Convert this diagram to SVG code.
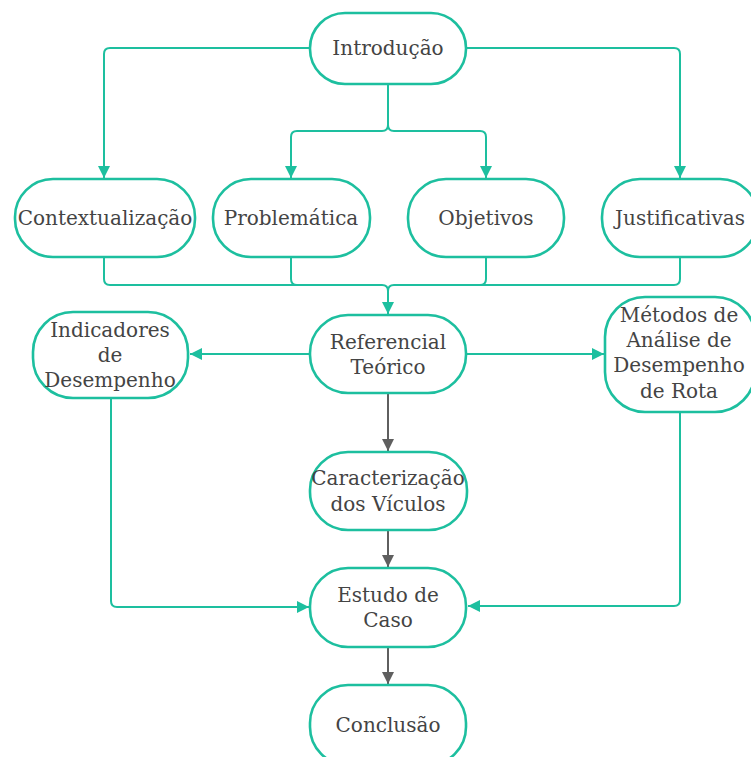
<svg xmlns="http://www.w3.org/2000/svg" width="751" height="757" viewBox="0 0 751 757">
<style>
.node rect{fill:#fff;stroke:#1dbf9f;stroke-width:2.6}
.node text{font-family:"DejaVu Serif","Liberation Serif",serif;font-size:20px;fill:#444;text-anchor:middle;dominant-baseline:central}
.c{fill:none;stroke:#1dbf9f;stroke-width:2}
.g{fill:none;stroke:#5f5f5f;stroke-width:2}
</style>
<defs>
<marker id="at" viewBox="0 0 12 12" refX="12" refY="6" markerWidth="12" markerHeight="12" markerUnits="userSpaceOnUse" orient="auto"><path d="M0,0 L12,6 L0,12 Z" fill="#1dbf9f"/></marker>
<marker id="ag" viewBox="0 0 12 12" refX="12" refY="6" markerWidth="12" markerHeight="12" markerUnits="userSpaceOnUse" orient="auto"><path d="M0,0 L12,6 L0,12 Z" fill="#5f5f5f"/></marker>
</defs>
<rect width="751" height="757" fill="#fff"/>
<g id="connectors">
<path class="c" d="M310,48 H110 Q104,48 104,54 V178" marker-end="url(#at)"/>
<path class="c" d="M466,48 H674 Q680,48 680,54 V178" marker-end="url(#at)"/>
<path class="c" d="M388,84 V125 Q388,131 382,131 H297 Q291,131 291,137 V178" marker-end="url(#at)"/>
<path class="c" d="M388,125 Q388,131 394,131 H480 Q486,131 486,137 V178" marker-end="url(#at)"/>
<path class="c" d="M104,257 V279 Q104,285 110,285 H382 Q388,285 388,291 V314" marker-end="url(#at)"/>
<path class="c" d="M291,257 V279 Q291,285 297,285"/>
<path class="c" d="M486,257 V279 Q486,285 480,285 H394 Q388,285 388,291"/>
<path class="c" d="M680,257 V279 Q680,285 674,285 H480"/>
<path class="c" d="M310,354 H190" marker-end="url(#at)"/>
<path class="c" d="M466,354 H604" marker-end="url(#at)"/>
<path class="g" d="M388,393 V451" marker-end="url(#ag)"/>
<path class="g" d="M388,530 V567" marker-end="url(#ag)"/>
<path class="g" d="M388,647 V684" marker-end="url(#ag)"/>
<path class="c" d="M111,398 V601 Q111,607 117,607 H309" marker-end="url(#at)"/>
<path class="c" d="M680,412 V600 Q680,606 674,606 H468" marker-end="url(#at)"/>
</g>
<g id="n-introducao" class="node"><rect x="310" y="13" width="156" height="71" rx="35"/><text x="388" y="48">Introdução</text></g>
<g id="n-contextualizacao" class="node"><rect x="15" y="179" width="180" height="78" rx="38"/><text x="105" y="218">Contextualização</text></g>
<g id="n-problematica" class="node"><rect x="213" y="179" width="157" height="78" rx="38"/><text x="291" y="218">Problemática</text></g>
<g id="n-objetivos" class="node"><rect x="408" y="179" width="156" height="78" rx="38"/><text x="486" y="218">Objetivos</text></g>
<g id="n-justificativas" class="node"><rect x="602" y="179" width="156" height="78" rx="38"/><text x="680" y="218">Justificativas</text></g>
<g id="n-referencial" class="node"><rect x="310" y="315" width="156" height="78" rx="38"/><text x="388" y="342">Referencial</text><text x="388" y="367">Teórico</text></g>
<g id="n-indicadores" class="node"><rect x="33" y="312" width="155" height="86" rx="40"/><text x="110" y="330">Indicadores</text><text x="110" y="355">de</text><text x="110" y="380">Desempenho</text></g>
<g id="n-metodos" class="node"><rect x="605" y="297" width="150" height="115" rx="40"/><text x="679" y="315">Métodos de</text><text x="679" y="340">Análise de</text><text x="679" y="365">Desempenho</text><text x="679" y="391">de Rota</text></g>
<g id="n-caracterizacao" class="node"><rect x="310" y="452" width="157" height="78" rx="38"/><text x="388" y="478">Caracterização</text><text x="388" y="504">dos Vículos</text></g>
<g id="n-estudo" class="node"><rect x="310" y="568" width="156" height="79" rx="38"/><text x="388" y="595">Estudo de</text><text x="388" y="620">Caso</text></g>
<g id="n-conclusao" class="node"><rect x="310" y="685" width="156" height="80" rx="38"/><text x="388" y="725">Conclusão</text></g>
</svg>
